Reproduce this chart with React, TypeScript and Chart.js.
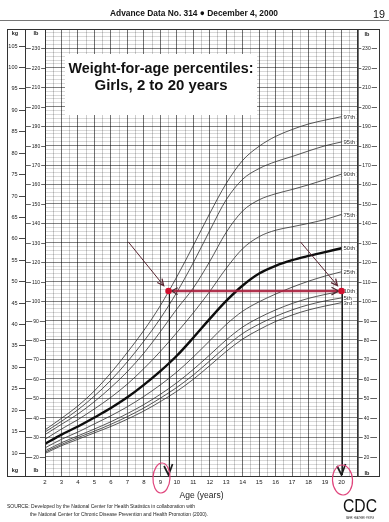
import React, { useEffect, useRef } from 'react';
import { Chart, registerables } from 'chart.js';

Chart.register(...registerables);

// ---- Data (kg) ----
const AGES = [2, 3, 4, 5, 6, 7, 8, 9, 10, 11, 12, 13, 14, 15, 16, 17, 18, 19, 20];
const P3 = [9.8, 11.6, 13.1, 14.6, 16.1, 17.8, 19.7, 21.9, 24.3, 27.1, 30.3, 33.6, 36.5, 38.7, 40.6, 42.1, 43.3, 44.2, 45.0];
const P5 = [10.1, 11.9, 13.5, 15.0, 16.6, 18.4, 20.4, 22.7, 25.2, 28.1, 31.4, 34.8, 37.8, 40.0, 41.8, 43.3, 44.5, 45.4, 46.1];
const P10 = [10.4, 12.3, 13.9, 15.5, 17.2, 19.1, 21.2, 23.6, 26.3, 29.4, 32.8, 36.3, 39.3, 41.5, 43.3, 44.8, 46.0, 46.9, 47.7];
const P25 = [11.1, 13.1, 14.8, 16.7, 18.6, 20.7, 23.1, 25.8, 28.8, 32.3, 36.1, 39.9, 43.0, 45.2, 47.0, 48.6, 50.0, 51.2, 52.2];
const P50 = [12.0, 14.2, 16.1, 18.2, 20.4, 22.9, 25.8, 29.0, 32.6, 36.8, 41.2, 45.4, 49.0, 51.8, 53.6, 54.9, 55.9, 56.8, 57.7];
const P75 = [13.1, 15.5, 17.7, 20.2, 22.9, 26.0, 29.6, 33.6, 38.0, 42.6, 47.6, 53.0, 57.6, 60.4, 61.9, 62.7, 63.5, 64.4, 65.6];
const P90 = [14.2, 16.6, 19.0, 21.9, 25.2, 28.9, 33.2, 38.2, 43.5, 48.4, 54.6, 61.4, 66.4, 69.0, 70.4, 71.4, 72.5, 73.7, 75.0];
const P95 = [14.8, 17.3, 20.0, 23.2, 26.9, 31.2, 36.0, 41.3, 47.4, 54.3, 61.8, 69.0, 73.8, 76.3, 77.9, 79.1, 80.4, 81.6, 82.5];
const P97 = [15.3, 18.0, 20.9, 24.4, 28.6, 33.4, 38.5, 44.3, 51.0, 58.3, 65.8, 72.8, 78.2, 81.5, 83.8, 85.4, 86.7, 87.6, 88.4];
const PERCENTILE_LABELS = ['3rd', '5th', '10th', '25th', '50th', '75th', '90th', '95th', '97th'];

const AGE_TICKS = [2, 3, 4, 5, 6, 7, 8, 9, 10, 11, 12, 13, 14, 15, 16, 17, 18, 19, 20];
const KG_TICKS = [10, 15, 20, 25, 30, 35, 40, 45, 50, 55, 60, 65, 70, 75, 80, 85, 90, 95, 100, 105];
const LB_TICKS = [20, 30, 40, 50, 60, 70, 80, 90, 100, 110, 120, 130, 140, 150, 160, 170, 180, 190, 200, 210, 220, 230];
const AGE_MIN = 2;
const AGE_MAX = 21;
const LB_MIN = 10;
const LB_MAX = 240;
const KG_PER_LB = 0.45359237;

// annotation (hand-drawn marks on the reference)
const MARK_AGES = [9.5, 20];
const MARK_KG = 47.7;
const ARROW_START_AGES = [7.05, 17.5];
const ARROW_END_AGES = [9.2, 19.75];
const ARROW_START_KG = 59.2;
const ARROW_END_KG = 49.0;
const CIRCLED_AGES = [9.07, 20.06];

const TITLE_LINES = ['Weight-for-age percentiles:', 'Girls, 2 to 20 years'];
const HEADER = 'Advance Data No. 314 \u25CF December 4, 2000';
const PAGE_NO = '19';
const SOURCE_LINES = [
  'SOURCE: Developed by the National Center for Health Statistics in collaboration with',
  'the National Center for Chronic Disease Prevention and Health Promotion (2000).',
];

const FONT = '"Liberation Sans", Arial, Helvetica, sans-serif';

function fitText(ctx: CanvasRenderingContext2D, text: string, x: number, y: number, width: number, font: string, align: 'left' | 'center' | 'right' = 'left') {
  ctx.save();
  ctx.font = font;
  ctx.textBaseline = 'middle';
  ctx.textAlign = 'left';
  const w = ctx.measureText(text).width;
  const s = width / w;
  const x0 = align === 'left' ? x : align === 'center' ? x - width / 2 : x - width;
  ctx.translate(x0, y);
  ctx.scale(s, 1);
  ctx.fillText(text, 0, 0);
  ctx.restore();
}

function arrowHead(ctx: CanvasRenderingContext2D, x1: number, y1: number, x2: number, y2: number, len: number, ang: number) {
  const a = Math.atan2(y2 - y1, x2 - x1);
  ctx.beginPath();
  ctx.moveTo(x2 - len * Math.cos(a - ang), y2 - len * Math.sin(a - ang));
  ctx.lineTo(x2, y2);
  ctx.lineTo(x2 - len * Math.cos(a + ang), y2 - len * Math.sin(a + ang));
  ctx.stroke();
}

export default function App() {
  const ref = useRef<HTMLCanvasElement>(null);

  useEffect(() => {
    const canvas = ref.current;
    if (!canvas) return;
    const series = [P3, P5, P10, P25, P50, P75, P90, P95, P97];
    const datasets = series.map((arr, i) => ({
      label: PERCENTILE_LABELS[i],
      data: AGES.map((a, j) => ({ x: a, y: arr[j] })),
      borderColor: i === 4 ? '#0d0d0d' : '#2e2e2e',
      borderWidth: i === 4 ? 2.4 : 0.8,
      pointRadius: 0,
      cubicInterpolationMode: 'monotone' as const,
      fill: false,
      xAxisID: 'x',
      yAxisID: 'y',
    }));

    const decor = {
      id: 'decor',
      beforeDraw(chart: any) {
        const ctx = chart.ctx as CanvasRenderingContext2D;
        ctx.save();
        ctx.fillStyle = '#fff';
        ctx.fillRect(0, 0, chart.width, chart.height);
        ctx.restore();
      },
      beforeDatasetsDraw(chart: any) {
        const ctx = chart.ctx as CanvasRenderingContext2D;
        ctx.save();
        ctx.fillStyle = '#fff';
        ctx.fillRect(65, 54, 192, 61);
        ctx.fillStyle = '#111';
        fitText(ctx, TITLE_LINES[0], 161, 68.5, 185, `bold 15px ${FONT}`, 'center');
        fitText(ctx, TITLE_LINES[1], 161, 86, 133, `bold 15px ${FONT}`, 'center');
        ctx.restore();
      },
      afterDatasetsDraw(chart: any) {
        const ctx = chart.ctx as CanvasRenderingContext2D;
        const xs = chart.scales.x;
        const ys = chart.scales.y;
        const X = (a: number) => xs.getPixelForValue(a);
        const Y = (kg: number) => ys.getPixelForValue(kg);
        const { bottom } = chart.chartArea;
        ctx.save();
        // percentile labels
        ctx.font = `6px ${FONT}`;
        ctx.textBaseline = 'middle';
        ctx.textAlign = 'left';
        chart.data.datasets.forEach((ds: any, i: number) => {
          const meta = chart.getDatasetMeta(i);
          const pt = meta.data[meta.data.length - 1];
          const w = ctx.measureText(ds.label).width;
          ctx.fillStyle = '#fff';
          ctx.fillRect(pt.x + 1.5, pt.y - 3, w + 1, 6);
          ctx.fillStyle = '#333';
          ctx.fillText(ds.label, pt.x + 2, pt.y + 0.5);
        });

        // vertical drop lines with arrow heads
        ctx.strokeStyle = '#1e1e1e';
        ctx.lineWidth = 1;
        MARK_AGES.forEach((a) => {
          const x = Math.round(X(a)) + 0.5;
          ctx.beginPath();
          ctx.moveTo(x, Y(MARK_KG));
          ctx.lineTo(x, bottom - 1);
          ctx.stroke();
        });
        ctx.lineWidth = 1.7;
        MARK_AGES.forEach((a) => {
          const x = X(a);
          ctx.beginPath();
          ctx.moveTo(x - 4.5, bottom - 10);
          ctx.lineTo(x, bottom - 1);
          ctx.lineTo(x + 4, bottom - 12);
          ctx.stroke();
        });

        // horizontal arrow
        const yMark = Y(MARK_KG);
        const xL = X(MARK_AGES[0]);
        const xR = X(MARK_AGES[1]);
        ctx.strokeStyle = 'rgba(168,30,60,0.9)';
        ctx.lineWidth = 2.6;
        ctx.beginPath();
        ctx.moveTo(xL + 3, yMark);
        ctx.lineTo(xR - 3, yMark);
        ctx.stroke();
        ctx.strokeStyle = '#4a2a30';
        ctx.lineWidth = 1.2;
        arrowHead(ctx, xR, yMark, xL + 3, yMark, 7, 0.5);
        arrowHead(ctx, xL, yMark, xR - 3, yMark, 8, 0.5);

        // diagonal arrows
        ARROW_START_AGES.forEach((a, i) => {
          const x1 = X(a);
          const y1 = Y(ARROW_START_KG);
          const x2 = X(ARROW_END_AGES[i]);
          const y2 = Y(ARROW_END_KG);
          ctx.strokeStyle = '#5a2632';
          ctx.lineWidth = 1;
          ctx.beginPath();
          ctx.moveTo(x1, y1);
          ctx.lineTo(x2, y2);
          ctx.stroke();
          ctx.lineWidth = 1.3;
          arrowHead(ctx, x1, y1, x2, y2, 7, 0.45);
        });

        // red dots
        ctx.fillStyle = '#d0102e';
        MARK_AGES.forEach((a) => {
          ctx.beginPath();
          ctx.arc(X(a), yMark, 3.3, 0, Math.PI * 2);
          ctx.fill();
        });
        ctx.restore();
      },
      afterDraw(chart: any) {
        const ctx = chart.ctx as CanvasRenderingContext2D;
        const xs = chart.scales.x;
        const ys = chart.scales.y;
        const ls = chart.scales.lb;
        const X = (a: number) => xs.getPixelForValue(a);
        const Y = (kg: number) => ys.getPixelForValue(kg);
        const YL = (lb: number) => ls.getPixelForValue(lb);
        const { left, right, top, bottom } = chart.chartArea;
        ctx.save();

        // frame and axis lines
        ctx.strokeStyle = '#333';
        ctx.lineWidth = 1;
        ctx.strokeRect(7.5, top + 0.5, 379 - 7, bottom - top);
        ctx.strokeRect(left + 0.5, top + 0.5, right - left - 1, bottom - top);
        ctx.beginPath();
        ctx.moveTo(25.5, top);
        ctx.lineTo(25.5, bottom);
        ctx.stroke();

        // kg ticks and labels
        ctx.font = `5.5px ${FONT}`;
        ctx.textBaseline = 'middle';
        ctx.lineWidth = 0.9;
        KG_TICKS.forEach((kg) => {
          const y = Math.round(Y(kg)) + 0.5;
          ctx.strokeStyle = '#333';
          ctx.beginPath();
          ctx.moveTo(19, y);
          ctx.lineTo(25.5, y);
          ctx.stroke();
          ctx.fillStyle = '#222';
          ctx.textAlign = 'right';
          ctx.fillText(String(kg), 17.5, y);
        });

        // lb labels left and right
        ctx.font = `5px ${FONT}`;
        LB_TICKS.forEach((lb) => {
          const y = Math.round(YL(lb)) + 0.5;
          ctx.strokeStyle = '#555';
          ctx.beginPath();
          ctx.moveTo(25.5, y);
          ctx.lineTo(left, y);
          ctx.moveTo(right, y);
          ctx.lineTo(377, y);
          ctx.stroke();
          const t = String(lb);
          const w = ctx.measureText(t).width;
          ctx.fillStyle = '#fff';
          ctx.fillRect(36 - w / 2 - 1, y - 3, w + 2, 6);
          ctx.fillRect(366.5 - w / 2 - 1, y - 3, w + 2, 6);
          ctx.fillStyle = '#222';
          ctx.textAlign = 'center';
          ctx.fillText(t, 36, y);
          ctx.fillText(t, 366.5, y);
        });

        // unit labels
        ctx.font = `bold 5.5px ${FONT}`;
        ctx.fillStyle = '#222';
        ctx.textAlign = 'center';
        ctx.fillText('kg', 15, top + 4);
        ctx.fillText('lb', 36, top + 4);
        ctx.fillText('kg', 15, bottom - 6);
        ctx.fillText('lb', 36, bottom - 6);
        ctx.fillText('lb', 367, top + 5);
        ctx.fillText('lb', 367, bottom - 3);

        // circled ages
        ctx.strokeStyle = '#e0447c';
        ctx.lineWidth = 1.2;
        ctx.beginPath();
        ctx.ellipse(X(CIRCLED_AGES[0]), bottom + 2, 8.5, 15, 0.05, 0, Math.PI * 2);
        ctx.stroke();
        ctx.beginPath();
        ctx.ellipse(X(CIRCLED_AGES[1]), bottom + 4, 10, 15, -0.05, 0, Math.PI * 2);
        ctx.stroke();

        // page header
        ctx.fillStyle = '#111';
        fitText(ctx, HEADER, 110, 14, 168, `bold 9px ${FONT}`, 'left');
        fitText(ctx, PAGE_NO, 385, 15, 12, `11px ${FONT}`, 'right');
        ctx.strokeStyle = '#777';
        ctx.lineWidth = 1;
        ctx.beginPath();
        ctx.moveTo(0, 20.5);
        ctx.lineTo(389, 20.5);
        ctx.stroke();

        // source
        ctx.fillStyle = '#222';
        fitText(ctx, SOURCE_LINES[0], 7, 507, 188, `5px ${FONT}`, 'left');
        fitText(ctx, SOURCE_LINES[1], 30, 515, 178, `5px ${FONT}`, 'left');

        // CDC logo
        ctx.fillStyle = '#111';
        fitText(ctx, 'CDC', 343, 507, 34, `19px ${FONT}`, 'left');
        fitText(ctx, 'SAFER \u00B7 HEALTHIER \u00B7 PEOPLE', 346, 518, 28, `3px ${FONT}`, 'left');
        ctx.restore();
      },
    };

    const chart = new Chart(canvas, {
      type: 'line',
      data: { datasets: datasets as any },
      options: {
        animation: false,
        responsive: false,
        maintainAspectRatio: false,
        events: [],
        layout: { padding: { left: 45, right: 31, top: 29, bottom: 18 } },
        plugins: { legend: { display: false }, tooltip: { enabled: false }, title: { display: false } },
        scales: {
          x: {
            type: 'linear',
            position: 'bottom',
            min: AGE_MIN,
            max: AGE_MAX,
            afterFit: (s: any) => { s.height = 28; },
            border: { display: false },
            grid: {
              drawTicks: false,
              color: (c: any) => (Number.isInteger(c.tick?.value) ? 'rgba(0,0,0,0.62)' : 'rgba(0,0,0,0.32)'),
              lineWidth: (c: any) => (Number.isInteger(c.tick?.value) ? 0.9 : 0.6),
            },
            ticks: {
              stepSize: 0.5,
              autoSkip: false,
              maxRotation: 0,
              minRotation: 0,
              padding: 3,
              color: '#222',
              font: { size: 6, family: FONT },
              callback: (v: any) => (AGE_TICKS.includes(Number(v)) ? String(v) : ''),
            },
            title: {
              display: true,
              text: 'Age (years)',
              color: '#222',
              font: { size: 8.5, family: FONT },
              padding: { top: 0, bottom: 3.5 },
            },
          },
          y: {
            type: 'linear',
            display: false,
            min: LB_MIN * KG_PER_LB,
            max: LB_MAX * KG_PER_LB,
          },
          lb: {
            type: 'linear',
            position: 'right',
            min: LB_MIN,
            max: LB_MAX,
            afterFit: (s: any) => { s.width = 0; },
            border: { display: false },
            grid: {
              drawTicks: false,
              color: (c: any) => (c.tick && c.tick.value % 10 === 0 ? 'rgba(0,0,0,0.55)' : 'rgba(0,0,0,0.25)'),
              lineWidth: (c: any) => (c.tick && c.tick.value % 10 === 0 ? 0.9 : 0.6),
            },
            ticks: { display: false, stepSize: 2, autoSkip: false },
          },
        },
      } as any,
      plugins: [decor],
    });
    return () => chart.destroy();
  }, []);

  return (
    <div style={{ position: 'absolute', left: 0, top: 0, width: 389, height: 522, background: '#fff' }}>
      <canvas ref={ref} width={389} height={522} style={{ display: 'block', width: 389, height: 522 }} />
    </div>
  );
}
